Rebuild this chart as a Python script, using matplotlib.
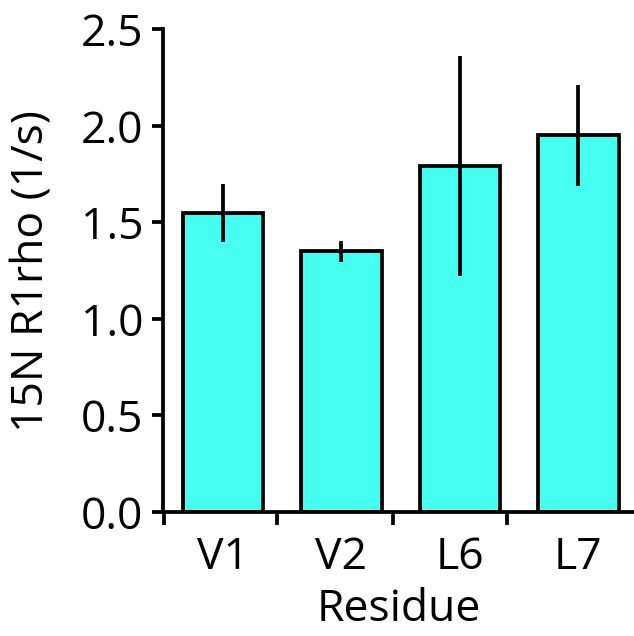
import matplotlib.pyplot as plt

residues = ['V1', 'V2', 'L6', 'L7']
r1rho = [1.55, 1.35, 1.79, 1.95]
r1rho_err = [0.15, 0.055, 0.57, 0.26]
yticks = [0.0, 0.5, 1.0, 1.5, 2.0, 2.5]

plt.rcParams['font.family'] = ['Open Sans', 'DejaVu Sans']
plt.rcParams['font.size'] = 32

fig = plt.figure(figsize=(6.34, 6.36), dpi=100)
ax = fig.add_axes([0.257, 0.195, 0.743, 0.759])

x = list(range(len(residues)))
ax.bar(x, r1rho, width=0.68, color='#46FFF0', edgecolor='black', linewidth=2.7, zorder=2)
ax.errorbar(x, r1rho, yerr=r1rho_err, fmt='none', ecolor='black', elinewidth=2.7, capsize=0, zorder=3)

ax.set_xlim(-0.506, 3.47)
ax.set_ylim(0, 2.5)
ax.set_yticks(yticks)
ax.set_yticklabels([f'{v:.1f}' for v in yticks])

# category labels centred under bars, ticks sit between them
ax.set_xticks(x)
ax.set_xticklabels(residues)
ax.tick_params(axis='x', which='major', length=0, pad=17)
ax.set_xticks([-0.5, 0.46, 1.44, 2.4], minor=True)
ax.tick_params(axis='x', which='minor', length=9, width=2.7, direction='out')
ax.tick_params(axis='y', length=8, width=2.7, direction='out', pad=6)

for side in ['top', 'right']:
    ax.spines[side].set_visible(False)
for side in ['left', 'bottom']:
    ax.spines[side].set_linewidth(2.7)

ax.set_ylabel('15N R1rho (1/s)', labelpad=19)
ax.set_xlabel('Residue', labelpad=5)

fig.savefig('out.png', dpi=100)
